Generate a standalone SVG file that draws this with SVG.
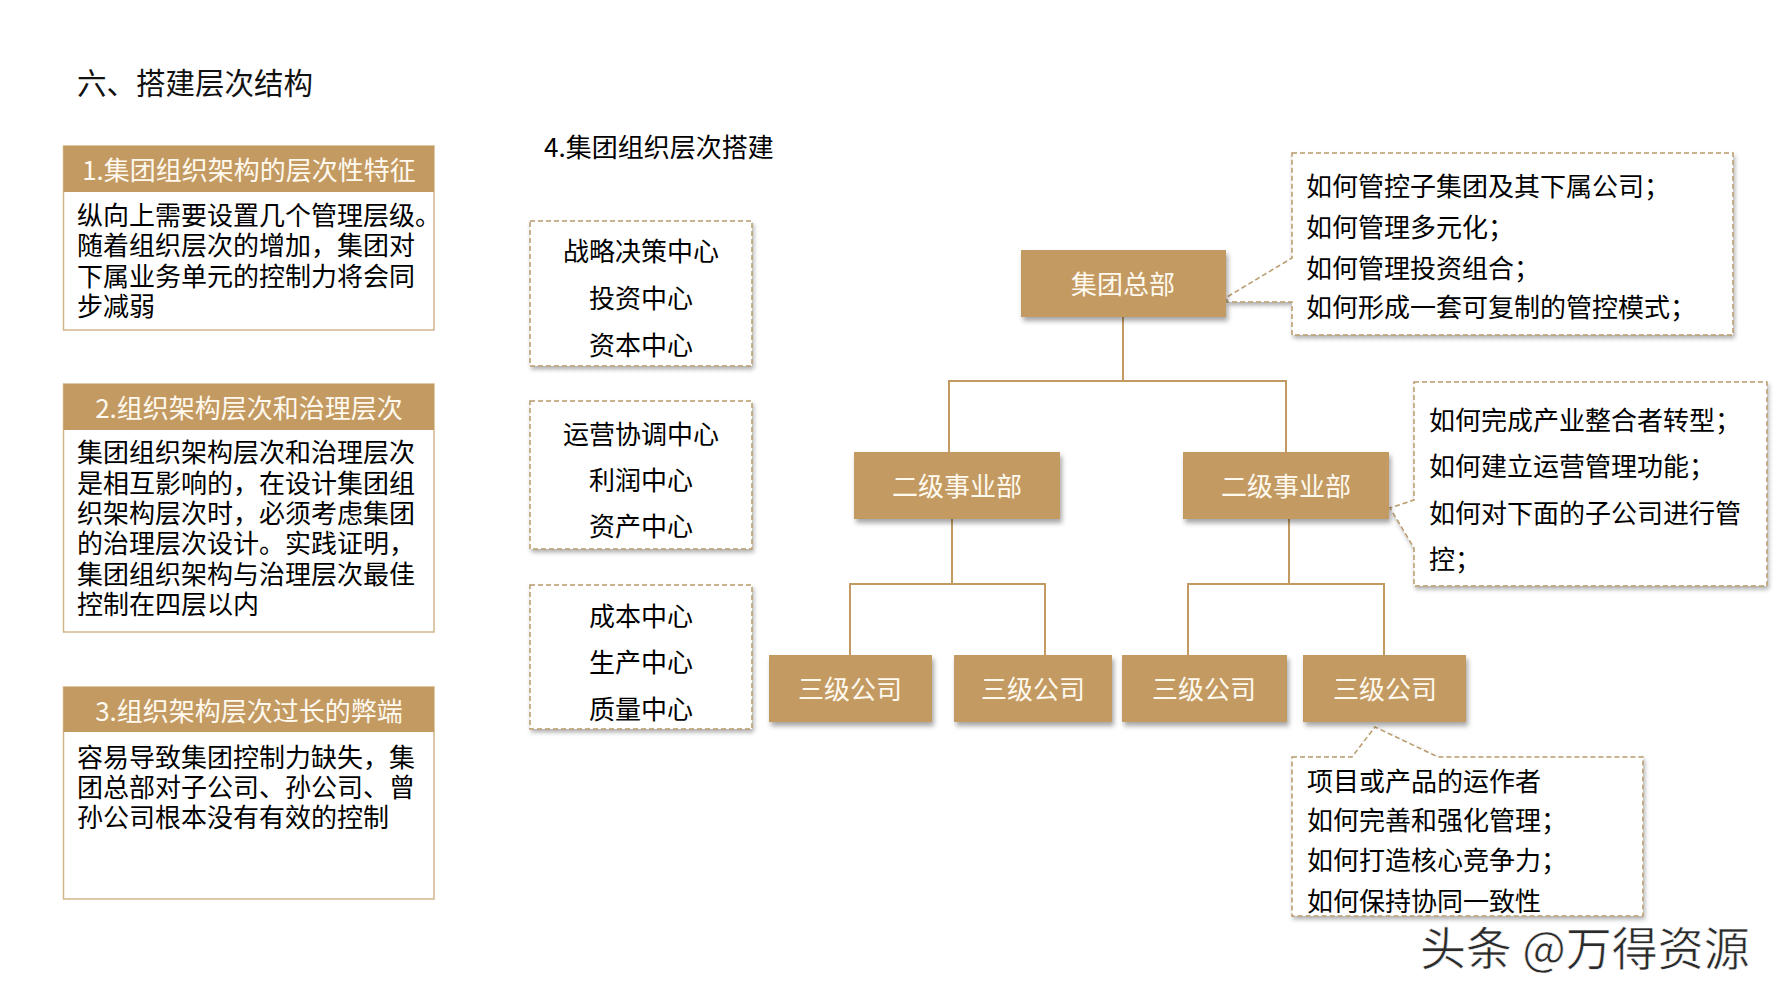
<svg xmlns="http://www.w3.org/2000/svg" width="1778" height="1000" viewBox="0 0 1778 1000">
<defs>
<filter id="sh" x="-10%" y="-10%" width="130%" height="140%">
<feDropShadow dx="2" dy="4" stdDeviation="2.5" flood-color="#000" flood-opacity="0.35"/>
</filter>
<filter id="sh2" x="-10%" y="-10%" width="130%" height="140%">
<feDropShadow dx="1.5" dy="3" stdDeviation="2" flood-color="#000" flood-opacity="0.3"/>
</filter>
</defs>
<style>
text{font-family:"Microsoft YaHei","Noto Sans CJK SC","Noto Sans",sans-serif;}
.t{font-size:26px;fill:#000;dominant-baseline:central;}
.title{font-size:29.5px;fill:#111;dominant-baseline:central;}
.hd{font-size:26px;fill:#FFF9EF;text-anchor:middle;dominant-baseline:central;}
.nd{font-size:26px;fill:#FFF9EF;text-anchor:middle;dominant-baseline:central;}
.c{text-anchor:middle;}
.node{fill:#C39B62;filter:url(#sh);}
.panel{fill:#fff;stroke:#D2B68A;stroke-width:1.5;}
.head{fill:#C39B62;}
.dash{fill:#fff;stroke:#B8996A;stroke-width:1.5;stroke-dasharray:5 3;filter:url(#sh2);}
.ln{fill:none;stroke:#C39B62;stroke-width:2;}
</style>
<rect width="1778" height="1000" fill="#fff"/>

<text class="title" x="77" y="81">六、搭建层次结构</text>

<g id="panel1">
<rect class="panel" x="63.5" y="146" width="370.5" height="184"/>
<rect class="head" x="63.5" y="146" width="370.5" height="46"/>
<text class="hd" x="249" y="168">1.集团组织架构的层次性特征</text>
<text class="t" x="77" y="213">纵向上需要设置几个管理层级。</text>
<text class="t" x="77" y="243">随着组织层次的增加，集团对</text>
<text class="t" x="77" y="274">下属业务单元的控制力将会同</text>
<text class="t" x="77" y="304">步减弱</text>
</g>

<g id="panel2">
<rect class="panel" x="63.5" y="384" width="370.5" height="248"/>
<rect class="head" x="63.5" y="384" width="370.5" height="46"/>
<text class="hd" x="249" y="406">2.组织架构层次和治理层次</text>
<text class="t" x="77" y="450">集团组织架构层次和治理层次</text>
<text class="t" x="77" y="481">是相互影响的，在设计集团组</text>
<text class="t" x="77" y="511">织架构层次时，必须考虑集团</text>
<text class="t" x="77" y="541">的治理层次设计。实践证明，</text>
<text class="t" x="77" y="572">集团组织架构与治理层次最佳</text>
<text class="t" x="77" y="602">控制在四层以内</text>
</g>

<g id="panel3">
<rect class="panel" x="63.5" y="687" width="370.5" height="212"/>
<rect class="head" x="63.5" y="687" width="370.5" height="45"/>
<text class="hd" x="249" y="709">3.组织架构层次过长的弊端</text>
<text class="t" x="77" y="755">容易导致集团控制力缺失，集</text>
<text class="t" x="77" y="785">团总部对子公司、孙公司、曾</text>
<text class="t" x="77" y="815">孙公司根本没有有效的控制</text>
</g>

<text class="t" x="544" y="145">4.集团组织层次搭建</text>

<g id="centers1">
<rect class="dash" x="530" y="221" width="222" height="145"/>
<text class="t c" x="641" y="249">战略决策中心</text>
<text class="t c" x="641" y="296">投资中心</text>
<text class="t c" x="641" y="343">资本中心</text>
</g>
<g id="centers2">
<rect class="dash" x="530" y="401" width="222" height="148"/>
<text class="t c" x="641" y="432">运营协调中心</text>
<text class="t c" x="641" y="478">利润中心</text>
<text class="t c" x="641" y="524">资产中心</text>
</g>
<g id="centers3">
<rect class="dash" x="530" y="585" width="222" height="144"/>
<text class="t c" x="641" y="614">成本中心</text>
<text class="t c" x="641" y="660">生产中心</text>
<text class="t c" x="641" y="707">质量中心</text>
</g>

<g id="connectors">
<path class="ln" d="M1123,317 V381 M949,381 H1286 M949,380 V452 M1286,380 V452"/>
<path class="ln" d="M952,519 V584 M850,584 H1045 M850,583 V655 M1045,583 V655"/>
<path class="ln" d="M1289,519 V584 M1188,584 H1384 M1188,583 V655 M1384,583 V655"/>
</g>

<g id="callout1">
<path class="dash" d="M1292,153 H1733 V335 H1292 V302 H1227 V297 L1292,258 Z"/>
<text class="t" x="1306" y="184">如何管控子集团及其下属公司；</text>
<text class="t" x="1306" y="225">如何管理多元化；</text>
<text class="t" x="1306" y="266">如何管理投资组合；</text>
<text class="t" x="1306" y="305">如何形成一套可复制的管控模式；</text>
</g>

<g id="callout2">
<path class="dash" d="M1414,382 H1767 V586 H1414 V548 L1390,508 L1414,500 Z"/>
<text class="t" x="1429" y="418">如何完成产业整合者转型；</text>
<text class="t" x="1429" y="464">如何建立运营管理功能；</text>
<text class="t" x="1429" y="511">如何对下面的子公司进行管</text>
<text class="t" x="1429" y="557">控；</text>
</g>

<g id="callout3">
<path class="dash" d="M1292,757 H1352 L1375,727 L1438,757 H1643 V916 H1292 Z"/>
<text class="t" x="1307" y="779">项目或产品的运作者</text>
<text class="t" x="1307" y="818">如何完善和强化管理；</text>
<text class="t" x="1307" y="858">如何打造核心竞争力；</text>
<text class="t" x="1307" y="899">如何保持协同一致性</text>
</g>

<g id="hq">
<rect class="node" x="1021" y="250" width="205" height="67"/>
<text class="nd" x="1123" y="282">集团总部</text>
</g>
<g id="div-left">
<rect class="node" x="854" y="452" width="206" height="67"/>
<text class="nd" x="957" y="484">二级事业部</text>
</g>
<g id="div-right">
<rect class="node" x="1183" y="452" width="206" height="67"/>
<text class="nd" x="1286" y="484">二级事业部</text>
</g>
<g id="co1">
<rect class="node" x="769" y="655" width="163" height="67"/>
<text class="nd" x="850" y="687">三级公司</text>
</g>
<g id="co2">
<rect class="node" x="954" y="655" width="158" height="67"/>
<text class="nd" x="1033" y="687">三级公司</text>
</g>
<g id="co3">
<rect class="node" x="1122" y="655" width="165" height="67"/>
<text class="nd" x="1204" y="687">三级公司</text>
</g>
<g id="co4">
<rect class="node" x="1303" y="655" width="163" height="67"/>
<text class="nd" x="1385" y="687">三级公司</text>
</g>

<text x="1420" y="945" font-size="46" fill="#2b2b2b" stroke="#fff" stroke-width="0.6" dominant-baseline="central">头条 @万得资源</text>
</svg>
